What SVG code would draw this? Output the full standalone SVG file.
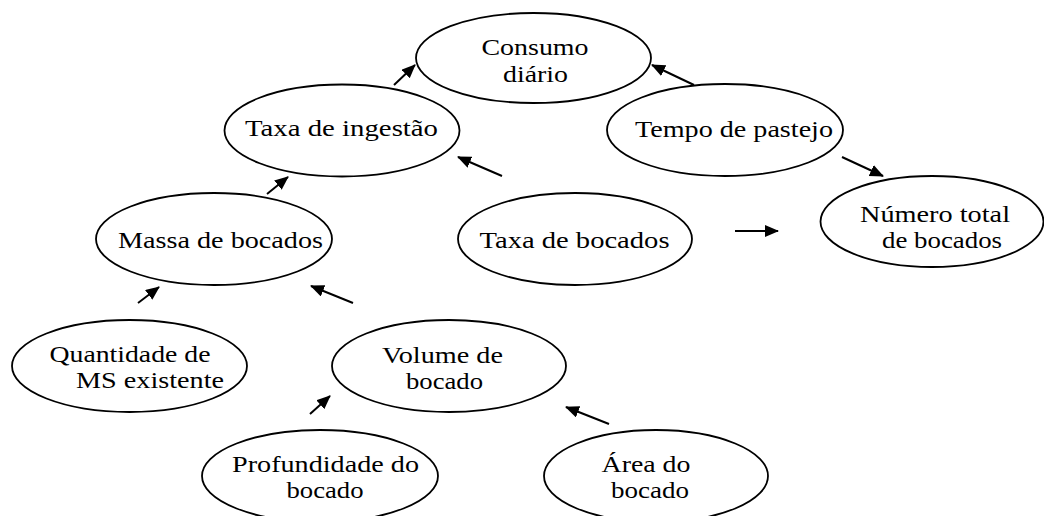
<svg xmlns="http://www.w3.org/2000/svg" width="1044" height="516" viewBox="0 0 1044 516">
<style>
.n ellipse{fill:#fff;stroke:#000;stroke-width:1.8}
.n text{font-family:"Liberation Serif","Times New Roman",serif;font-size:23.5px;fill:#000;text-anchor:middle}
.c line{stroke:#000;stroke-width:2}
</style>
<defs>
<marker id="ah" markerUnits="userSpaceOnUse" markerWidth="14" markerHeight="13" refX="13" refY="6" orient="auto">
<path d="M0,0 L14,6 L0,12 z" fill="#000"/>
</marker>
</defs>
<rect width="1044" height="516" fill="#fff"/>
<g id="consumo" class="n"><ellipse cx="533.5" cy="58" rx="117.5" ry="45"/>
<text x="535" y="55" textLength="107" lengthAdjust="spacingAndGlyphs">Consumo</text>
<text x="535.5" y="82" textLength="65" lengthAdjust="spacingAndGlyphs">diário</text></g>
<g id="taxa-ingestao" class="n"><ellipse cx="342" cy="130.5" rx="117.5" ry="46"/>
<text x="341.5" y="136" textLength="193" lengthAdjust="spacingAndGlyphs">Taxa de ingestão</text></g>
<g id="tempo-pastejo" class="n"><ellipse cx="725" cy="130" rx="118" ry="46"/>
<text x="734" y="137" textLength="198" lengthAdjust="spacingAndGlyphs">Tempo de pastejo</text></g>
<g id="numero-total" class="n"><ellipse cx="932" cy="221.5" rx="111.5" ry="45.5"/>
<text x="935" y="222" textLength="150" lengthAdjust="spacingAndGlyphs">Número total</text>
<text x="942" y="248" textLength="120" lengthAdjust="spacingAndGlyphs">de bocados</text></g>
<g id="taxa-bocados" class="n"><ellipse cx="575" cy="239" rx="117" ry="46"/>
<text x="574.5" y="248" textLength="190" lengthAdjust="spacingAndGlyphs">Taxa de bocados</text></g>
<g id="massa-bocados" class="n"><ellipse cx="214" cy="239" rx="118" ry="46"/>
<text x="220.5" y="248" textLength="205" lengthAdjust="spacingAndGlyphs">Massa de bocados</text></g>
<g id="quantidade-ms" class="n"><ellipse cx="129.5" cy="366" rx="117.5" ry="46"/>
<text x="130" y="362" textLength="161" lengthAdjust="spacingAndGlyphs">Quantidade de</text>
<text x="150" y="388" textLength="148" lengthAdjust="spacingAndGlyphs">MS existente</text></g>
<g id="volume-bocado" class="n"><ellipse cx="449" cy="366" rx="117" ry="46"/>
<text x="442.5" y="363" textLength="121" lengthAdjust="spacingAndGlyphs">Volume de</text>
<text x="444.5" y="389" textLength="77" lengthAdjust="spacingAndGlyphs">bocado</text></g>
<g id="profundidade-bocado" class="n"><ellipse cx="320" cy="476" rx="118" ry="46"/>
<text x="325.5" y="472" textLength="187" lengthAdjust="spacingAndGlyphs">Profundidade do</text>
<text x="325" y="498" textLength="77" lengthAdjust="spacingAndGlyphs">bocado</text></g>
<g id="area-bocado" class="n"><ellipse cx="656" cy="476" rx="112" ry="46"/>
<text x="646" y="472" textLength="89" lengthAdjust="spacingAndGlyphs">Área do</text>
<text x="650" y="498" textLength="78" lengthAdjust="spacingAndGlyphs">bocado</text></g>
<g id="connectors" class="c">
<line x1="394" y1="85" x2="415" y2="65" marker-end="url(#ah)"/>
<line x1="502" y1="176" x2="458" y2="157" marker-end="url(#ah)"/>
<line x1="694" y1="85" x2="652" y2="65" marker-end="url(#ah)"/>
<line x1="842" y1="157" x2="883" y2="176" marker-end="url(#ah)"/>
<line x1="735" y1="231" x2="778" y2="231" marker-end="url(#ah)"/>
<line x1="267" y1="194" x2="288" y2="177" marker-end="url(#ah)"/>
<line x1="138" y1="303" x2="159" y2="287" marker-end="url(#ah)"/>
<line x1="353" y1="303" x2="311" y2="286" marker-end="url(#ah)"/>
<line x1="310" y1="414" x2="330" y2="396" marker-end="url(#ah)"/>
<line x1="609" y1="424" x2="566" y2="407" marker-end="url(#ah)"/>
</g>
</svg>
